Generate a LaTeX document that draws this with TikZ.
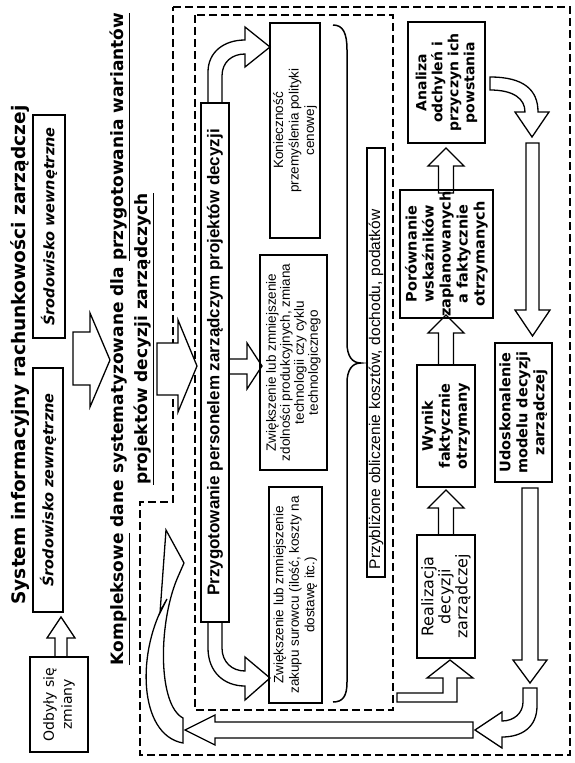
\documentclass[tikz,border=0pt]{standalone}
\usepackage{fontspec}
\setmainfont{DejaVu Sans}
\newfontfamily\tah{DejaVu Sans}
\newfontfamily\ari{Liberation Sans}
\begin{document}
\begin{tikzpicture}[x=1pt,y=-1pt,
  bx/.style={draw, line width=1.7pt, rotate=90, inner sep=1pt, align=center},
  blk/.style={draw, fill=white, line width=1.3pt, line join=miter},
  dsh/.style={draw, line width=1.1pt, dash pattern=on 8pt off 4pt},
  fT/.style={font=\tah\bfseries\fontsize{14.5}{17}\selectfont},
  fA/.style={font=\ari\fontsize{13.5}{15.5}\selectfont}]
\useasboundingbox[fill=white] (0,0) rectangle (575,763);

% dashed regions
\draw[dsh] (173,7) -- (570,7) -- (570,755) -- (140,755) -- (140,502) -- (173,502) -- cycle;
\draw[dsh] (195,15) rectangle (393,710);

% titles
\node[rotate=90, font=\tah\bfseries\fontsize{18.6}{22}\selectfont] (title) at (20,355) {System informacyjny rachunkowości zarządczej};
\node[rotate=90, align=center, font=\tah\bfseries\fontsize{17}{24}\selectfont] (komp) at (132,339) {\underline{Kompleksowe} dane systematyzowane dla \underline{przygotowania wariantów}\\ \underline{projektów decyzji zarządczych}};

% block arrows
\draw[blk] (73,332) -- (90,332) -- (90,313) -- (110,360) -- (90,407) -- (90,385) -- (73,385) -- cycle;
\draw[blk] (157,343) -- (178,343) -- (178,320) -- (197,366) -- (178,412) -- (178,395) -- (157,395) -- cycle;
\draw[blk] (55,657) -- (55,638) -- (47,638) -- (61,617) -- (75,638) -- (67,638) -- (67,657) -- cycle;
\draw[blk] (229,359) -- (247,359) -- (247,343) -- (262,366) -- (247,389) -- (247,374) -- (229,374) -- cycle;
\draw[blk] (208,103) -- (208,72) .. controls (208,52) and (224,40) .. (245,40) -- (245,27) -- (270,47) -- (245,67) -- (245,54) .. controls (232,54) and (222,62) .. (222,76) -- (222,103) -- cycle;
\draw[blk] (208,622) -- (208,648) .. controls (208,672) and (224,686) .. (245,686) -- (245,700) -- (270,678) -- (245,657) -- (245,671) .. controls (232,671) and (222,662) .. (222,648) -- (222,622) -- cycle;
\foreach \yb/\yt in {535/490, 365/315, 193/148}{
  \draw[blk] (438.5,\yb) -- (438.5,\yt+18) -- (428,\yt+18) -- (446,\yt) -- (464,\yt+18) -- (453.5,\yt+18) -- (453.5,\yb) -- cycle;
}
\draw[blk] (397,693) -- (443,693) -- (443,678) -- (427,678) -- (450,660) -- (473,678) -- (457,678) -- (457,702) -- (397,702) -- cycle;
\draw[blk] (490,77) .. controls (524,77) and (538,90) .. (538,112) -- (549,112) -- (532,137) -- (515,112) -- (525,112) .. controls (525,99) and (514,90) .. (490,90) -- cycle;
\draw[blk] (526,143) -- (539,143) -- (539,310) -- (550,310) -- (532.5,336) -- (515,310) -- (526,310) -- cycle;
\draw[blk] (522,488) -- (538,488) -- (538,660) -- (547,660) -- (530,683) -- (513,660) -- (522,660) -- cycle;
\draw[blk] (523,688) -- (537,688) -- (537,706) .. controls (537,727) and (522,737) .. (502,737) -- (502,748) -- (475,730) -- (502,712) -- (502,721) .. controls (514,721) and (523,713) .. (523,702) -- cycle;
\draw[blk] (473,722) -- (473,738) -- (215,738) -- (215,745) -- (185,730) -- (215,715) -- (215,722) -- cycle;
\draw[blk] (166,530) -- (184,563) -- (177,579) .. controls (158,625) and (158,705) .. (183,718) -- (183,743) .. controls (138,735) and (136,650) .. (167,599) -- (160,613) -- cycle;

% brace
\draw[line width=1.5pt] (333,25) .. controls (343,25) and (347,33) .. (347,50) -- (347,343) .. controls (347,356) and (352,363) .. (361,363) .. controls (352,363) and (347,370) .. (347,383) -- (347,682) .. controls (347,696) and (343,702) .. (333,702);

% boxes
\node[bx, minimum width=223pt, minimum height=32pt, font=\tah\bfseries\itshape\fontsize{14.5}{17}\selectfont] (wew) at (49,226.5) {Środowisko wewnętrzne};
\node[bx, minimum width=244pt, minimum height=30pt, font=\tah\bfseries\itshape\fontsize{14.5}{17}\selectfont] (zew) at (48,490) {Środowisko zewnętrzne};
\node[bx, minimum width=95pt, minimum height=58pt, font=\tah\fontsize{14}{18}\selectfont] (odb) at (59,704.5) {Odbyły się\\zmiany};
\node[bx, minimum width=519pt, minimum height=28pt, font=\ari\bfseries\fontsize{17}{20}\selectfont] (przyg) at (215,362.5) {Przygotowanie personelem zarządczym projektów decyzji};
\node[bx, fA, minimum width=215pt, minimum height=50pt] (kon) at (295,130.5) {Konieczność\\przemyślenia polityki\\cenowej};
\node[bx, font=\ari\fontsize{13.5}{14}\selectfont, minimum width=215pt, minimum height=67pt] (zdol) at (293.5,362.5) {Zwiększenie lub zmniejszenie\\zdolności produkcyjnych, zmiana\\technologii czy cyklu\\technologicznego};
\node[bx, fA, minimum width=216pt, minimum height=53pt] (zak) at (295.5,595) {Zwiększenie lub zmniejszenie\\zakupu surowcu (ilość, koszty na\\dostawę itc.)};
\node[bx, line width=1.3pt, inner sep=0pt, minimum width=429pt, minimum height=18pt, text width=413pt, align=left, font=\ari\fontsize{15.5}{17}\selectfont] (przybl) at (376,362.5) {Przybliżone obliczenie kosztów, dochodu, podatków};
\node[bx, font=\tah\bfseries\fontsize{14}{16}\selectfont, minimum width=121pt, minimum height=77pt] (anal) at (446.5,82.5) {Analiza\\odchyleń i\\przyczyn ich\\powstania};
\node[bx, fT, minimum width=122pt, minimum height=93pt] (por) at (446.5,254) {Porównanie\\wskaźników\\zaplanowanych\\a faktycznie\\otrzymanych};
\node[bx, fT, minimum width=122pt, minimum height=58pt] (wyn) at (446,426) {Wynik\\faktycznie\\otrzymany};
\node[bx, font=\tah\fontsize{16}{17}\selectfont, minimum width=123pt, minimum height=58pt] (real) at (446,596.5) {Realizacja\\decyzji\\zarządczej};
\node[bx, fT, minimum width=139pt, minimum height=57pt] (udo) at (523.5,412.5) {Udoskonalenie\\modelu decyzji\\zarządczej};
\end{tikzpicture}
\end{document}
